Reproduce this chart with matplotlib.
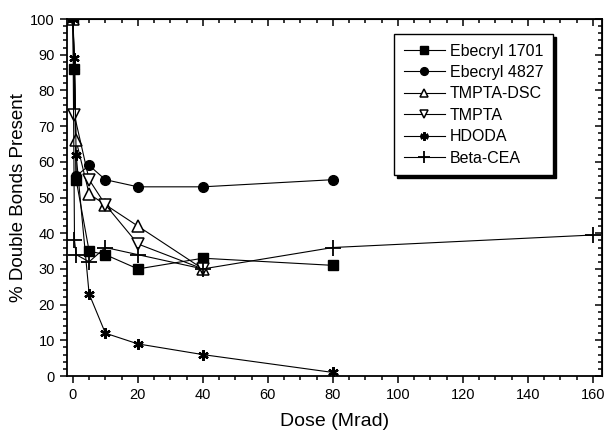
import matplotlib.pyplot as plt
from matplotlib.ticker import MultipleLocator

plt.rcParams['font.family'] = ['Liberation Sans', 'DejaVu Sans']

# dose (Mrad) and % double bonds remaining for each resin
doseEb1701 = [0, 0.5, 1, 5, 10, 20, 40, 80]
valEb1701 = [100, 86, 55, 35, 34, 30, 33, 31]

doseEb4827 = [0, 0.5, 1, 5, 10, 20, 40, 80]
valEb4827 = [100, 86, 56, 59, 55, 53, 53, 55]

doseDsc = [0, 1, 5, 10, 20, 40]
valDsc = [100, 66, 51, 48, 42, 30]

doseTmpta = [0, 0.5, 5, 10, 20, 40]
valTmpta = [100, 73, 55, 48, 37, 30]

doseHdoda = [0, 0.5, 1, 5, 10, 20, 40, 80]
valHdoda = [100, 89, 62, 23, 12, 9, 6, 1]

doseBeta = [0, 0.5, 1, 5, 10, 20, 40, 80, 160]
valBeta = [100, 38, 34, 32, 36, 34, 30, 36, 39.5]

fig = plt.figure(figsize=(6.08, 4.33), dpi=100)
ax = fig.add_axes([0.1097, 0.1316, 0.8799, 0.8244])

lw = 0.8
ax.plot(doseEb1701, valEb1701, color='k', lw=lw, marker='s', ms=6.5, mfc='k', mec='k', label='Ebecryl 1701')
ax.plot(doseEb4827, valEb4827, color='k', lw=lw, marker='o', ms=7, mfc='k', mec='k', label='Ebecryl 4827')
ax.plot(doseDsc, valDsc, color='k', lw=lw, marker='^', ms=8, mfc='white', mec='k', mew=1.1, label='TMPTA-DSC')
ax.plot(doseTmpta, valTmpta, color='k', lw=lw, marker='v', ms=8, mfc='white', mec='k', mew=1.1, label='TMPTA')
ax.plot(doseHdoda, valHdoda, color='k', lw=lw, marker=(6, 2, 0), ms=7.5, mec='k', mew=1.7, label='HDODA')
ax.plot(doseBeta, valBeta, color='k', lw=lw, marker='+', ms=11, mec='k', mew=1.3, label='Beta-CEA')

ax.set_xlim(-1.9, 162.7)
ax.set_ylim(0, 100)
ax.xaxis.set_major_locator(MultipleLocator(20))
ax.xaxis.set_minor_locator(MultipleLocator(5))
ax.yaxis.set_major_locator(MultipleLocator(10))
ax.yaxis.set_minor_locator(MultipleLocator(2))

ax.tick_params(which='both', direction='out', top=False, right=False, labelsize=10.5, width=1.1)
ax.tick_params(which='major', length=5)
ax.tick_params(which='minor', length=3)
for s in ax.spines.values():
    s.set_linewidth(1.3)

# mirrored ticks on top and right point inward
top = ax.secondary_xaxis('top')
top.xaxis.set_major_locator(MultipleLocator(20))
top.xaxis.set_minor_locator(MultipleLocator(5))
top.tick_params(which='both', direction='in', labeltop=False, width=1.1)
top.tick_params(which='major', length=5)
top.tick_params(which='minor', length=3)
right = ax.secondary_yaxis('right')
right.yaxis.set_major_locator(MultipleLocator(10))
right.yaxis.set_minor_locator(MultipleLocator(2))
right.tick_params(which='both', direction='in', labelright=False, width=1.1)
right.tick_params(which='major', length=5)
right.tick_params(which='minor', length=3)

ax.set_xlabel('Dose (Mrad)', fontsize=14, labelpad=8)
ax.set_ylabel('% Double Bonds Present', fontsize=13.5, labelpad=2)

leg = ax.legend(loc='upper right', bbox_to_anchor=(0.909, 0.958), fontsize=11.5, frameon=True,
                fancybox=False, edgecolor='k', framealpha=1, handlelength=2.6,
                labelspacing=0.4, borderpad=0.6, handletextpad=0.3, borderaxespad=0,
                markerscale=0.8, shadow={'color': 'k', 'alpha': 1})
leg.get_frame().set_linewidth(1.0)

fig.savefig('out.png', dpi=100)
